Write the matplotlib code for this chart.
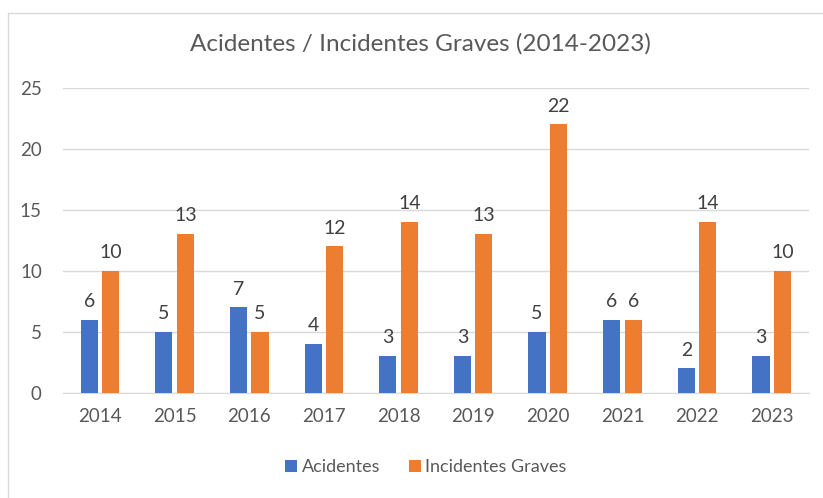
import matplotlib.pyplot as plt
import numpy as np
from matplotlib.patches import Rectangle

years = ["2014", "2015", "2016", "2017", "2018", "2019", "2020", "2021", "2022", "2023"]
acidentes = [6, 5, 7, 4, 3, 3, 5, 6, 2, 3]
incidentes_graves = [10, 13, 5, 12, 14, 13, 22, 6, 14, 10]

plt.rcParams['font.family'] = ['Lato', 'DejaVu Sans']
grey = '#595959'

fig = plt.figure(figsize=(8.23, 4.98), dpi=100)
fig.patches.append(Rectangle((8/823, -0.1), 1.0, 1 - 13/498 + 0.1, transform=fig.transFigure,
                             fill=False, edgecolor='#D9D9D9', linewidth=1.0))
ax = fig.add_axes([62.7/823, 1 - 392.7/498, (809 - 62.7)/823, (392.7 - 87.7)/498])

x = np.arange(len(years))
w = 0.23
off = 0.144
b1 = ax.bar(x - off, acidentes, w, color='#4472C4', label='Acidentes', zorder=3)
b2 = ax.bar(x + off, incidentes_graves, w, color='#ED7D31', label='Incidentes Graves', zorder=3)

for bars in (b1, b2):
    for r in bars:
        ax.annotate(f"{int(r.get_height())}", (r.get_x() + r.get_width() / 2, r.get_height()),
                    xytext=(0, 7), textcoords='offset points', ha='center', va='bottom',
                    fontsize=14, color='#404040')

ax.set_xlim(-0.5, len(years) - 0.5)
ax.set_ylim(0, 25)
ax.set_yticks([0, 5, 10, 15, 20, 25])
ax.set_xticks(x)
ax.set_xticklabels(years)
ax.tick_params(axis='both', length=0, labelsize=13.5, colors=grey)
ax.tick_params(axis='x', pad=11)
ax.tick_params(axis='y', pad=15)
ax.grid(axis='y', color='#D9D9D9', linewidth=1, zorder=0)
for s in ['top', 'right', 'left']:
    ax.spines[s].set_visible(False)
ax.spines['bottom'].set_color('#D9D9D9')

fig.text(420/823, 1 - 44/498, "Acidentes / Incidentes Graves (2014-2023)", ha='center', va='center',
         fontsize=17.5, color=grey)

leg = fig.legend(handles=[b1, b2], loc='center', bbox_to_anchor=(426/823, 1 - 467/498), ncol=2,
                 frameon=False, fontsize=13, handlelength=0.65, handleheight=0.65,
                 columnspacing=1.6, handletextpad=0.25)
for t in leg.get_texts():
    t.set_color(grey)

fig.savefig('out.png', dpi=100)
